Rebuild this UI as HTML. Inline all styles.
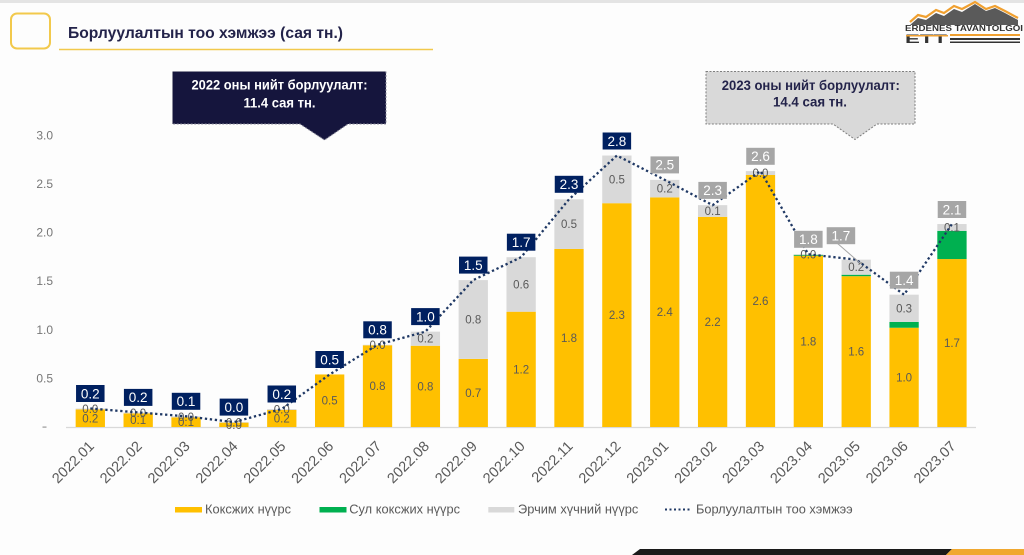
<!DOCTYPE html>
<html><head><meta charset="utf-8"><style>
html,body{margin:0;padding:0;background:#fdfdfd;}
svg{display:block;font-family:"Liberation Sans","DejaVu Sans",sans-serif;}
</style></head><body>
<svg width="1024" height="555" viewBox="0 0 1024 555" xmlns="http://www.w3.org/2000/svg">
<rect x="0" y="0" width="1024" height="555" fill="#fdfdfd"/>
<rect x="0" y="0" width="1024" height="3" fill="#e4e4e4"/>
<!-- header -->
<rect x="11" y="13.5" width="39" height="35" rx="6" ry="6" fill="none" stroke="#F2C94C" stroke-width="2"/>
<text x="68" y="38" font-size="16" font-weight="bold" fill="#23234a" textLength="275" lengthAdjust="spacingAndGlyphs">Борлуулалтын тоо хэмжээ (сая тн.)</text>
<line x1="59" y1="49.5" x2="433" y2="49.5" stroke="#F2C94C" stroke-width="1.6"/>
<!-- logo -->
<polygon points="910,25 918,18 926,20 936,13 944,16 954,9 962,12 975,4 986,11 995,8 1005,13 1018,20 1018,25" fill="#5a5a5a"/>
<polyline points="910,22 918,15 926,17 936,10 944,13 954,6 962,9 975,2 986,9 995,6 1005,11 1018,18" fill="none" stroke="#F0A030" stroke-width="2.2"/>
<text x="905" y="31" font-size="8.6" font-weight="bold" fill="#333" textLength="118" lengthAdjust="spacingAndGlyphs">ERDENES TAVANTOLGOI</text>
<text x="905" y="43" font-size="12" font-weight="bold" fill="#333" textLength="42" lengthAdjust="spacingAndGlyphs">ETT</text>
<rect x="906" y="35" width="42" height="1.5" fill="#F0A030"/>
<rect x="950" y="34" width="70" height="2" fill="#F0A030"/>
<rect x="950" y="38" width="70" height="2" fill="#333"/>
<rect x="950" y="41.5" width="70" height="1.5" fill="#333"/>
<!-- callouts -->
<path d="M172.5,71.5 H386 V124 H348 L324.5,140 L300,124 H172.5 Z" fill="#15153d" stroke="#8a8a9a" stroke-width="1" stroke-dasharray="2 1.5"/>
<text x="279.5" y="89.3" font-size="14" font-weight="bold" fill="#ffffff" text-anchor="middle" textLength="176" lengthAdjust="spacingAndGlyphs">2022 оны нийт борлуулалт:</text>
<text x="279.5" y="107.7" font-size="14" font-weight="bold" fill="#ffffff" text-anchor="middle" textLength="72" lengthAdjust="spacingAndGlyphs">11.4 сая тн.</text>
<path d="M706,71.5 H915 V124 H877 L855,139.5 L833,124 H706 Z" fill="#D9D9D9" stroke="#7f7f7f" stroke-width="1" stroke-dasharray="2 1.5"/>
<text x="810.8" y="90" font-size="14" font-weight="bold" fill="#23234a" text-anchor="middle" textLength="178" lengthAdjust="spacingAndGlyphs">2023 оны нийт борлуулалт:</text>
<text x="810" y="106.7" font-size="14" font-weight="bold" fill="#23234a" text-anchor="middle" textLength="74" lengthAdjust="spacingAndGlyphs">14.4 сая тн.</text>
<!-- y axis -->
<g font-size="12" fill="#777" text-anchor="end">
<text x="53" y="139.3">3.0</text>
<text x="53" y="187.9">2.5</text>
<text x="53" y="236.6">2.0</text>
<text x="53" y="285.2">1.5</text>
<text x="53" y="333.9">1.0</text>
<text x="53" y="382.5">0.5</text>
</g>
<rect x="42.5" y="426.5" width="4" height="1.2" fill="#999"/>
<line x1="66" y1="427.5" x2="976" y2="427.5" stroke="#d9d9d9" stroke-width="1.2"/>
<!-- bars -->
<g fill="#FFC000">
<rect x="75.65" y="409.49" width="29.3" height="17.51"/>
<rect x="123.52" y="413.38" width="29.3" height="13.62"/>
<rect x="171.39" y="417.27" width="29.3" height="9.73"/>
<rect x="219.26" y="422.62" width="29.3" height="4.38"/>
<rect x="267.13" y="409.97" width="29.3" height="17.03"/>
<rect x="315.0" y="374.46" width="29.3" height="52.54"/>
<rect x="362.87" y="345.27" width="29.3" height="81.73"/>
<rect x="410.74" y="345.75" width="29.3" height="81.25"/>
<rect x="458.61" y="358.89" width="29.3" height="68.11"/>
<rect x="506.48" y="311.7" width="29.3" height="115.3"/>
<rect x="554.35" y="248.94" width="29.3" height="178.06"/>
<rect x="602.22" y="203.21" width="29.3" height="223.79"/>
<rect x="650.09" y="197.37" width="29.3" height="229.63"/>
<rect x="697.96" y="216.83" width="29.3" height="210.17"/>
<rect x="745.83" y="174.99" width="29.3" height="252.01"/>
<rect x="793.7" y="255.75" width="29.3" height="171.25"/>
<rect x="841.57" y="276.18" width="29.3" height="150.82"/>
<rect x="889.44" y="327.75" width="29.3" height="99.25"/>
<rect x="937.31" y="259.06" width="29.3" height="167.94"/>
</g>
<g fill="#00B050">
<rect x="793.7" y="254.78" width="29.3" height="0.97"/>
<rect x="841.57" y="274.72" width="29.3" height="1.46"/>
<rect x="889.44" y="321.91" width="29.3" height="5.84"/>
<rect x="937.31" y="230.84" width="29.3" height="28.22"/>
</g>
<g fill="#D9D9D9">
<rect x="75.65" y="408.52" width="29.3" height="0.97"/>
<rect x="123.52" y="412.41" width="29.3" height="0.97"/>
<rect x="171.39" y="416.3" width="29.3" height="0.97"/>
<rect x="219.26" y="422.13" width="29.3" height="0.49"/>
<rect x="267.13" y="409.0" width="29.3" height="0.97"/>
<rect x="362.87" y="344.78" width="29.3" height="0.49"/>
<rect x="410.74" y="331.64" width="29.3" height="14.11"/>
<rect x="458.61" y="280.08" width="29.3" height="78.81"/>
<rect x="506.48" y="257.21" width="29.3" height="54.49"/>
<rect x="554.35" y="199.32" width="29.3" height="49.62"/>
<rect x="602.22" y="155.53" width="29.3" height="47.68"/>
<rect x="650.09" y="179.86" width="29.3" height="17.51"/>
<rect x="697.96" y="205.15" width="29.3" height="11.68"/>
<rect x="745.83" y="171.1" width="29.3" height="3.89"/>
<rect x="793.7" y="254.29" width="29.3" height="0.49"/>
<rect x="841.57" y="259.64" width="29.3" height="15.08"/>
<rect x="889.44" y="294.67" width="29.3" height="27.24"/>
<rect x="937.31" y="224.03" width="29.3" height="6.81"/>
</g>
<!-- inner labels -->
<g font-size="11.5" fill="#595959" text-anchor="middle">
<text x="90.3" y="422.3">0.2</text><text x="90.3" y="413">0.0</text>
<text x="138.17" y="424.2">0.1</text><text x="138.17" y="416.9">0.0</text>
<text x="186.04" y="426.1">0.1</text><text x="186.04" y="420.8">0.0</text>
<text x="233.91" y="428.8">0.0</text><text x="233.91" y="426.4">0.0</text>
<text x="281.78" y="422.5">0.2</text><text x="281.78" y="413.5">0.0</text>
<text x="329.65" y="404.7">0.5</text>
<text x="377.52" y="390.1">0.8</text><text x="377.52" y="349">0.0</text>
<text x="425.39" y="390.4">0.8</text><text x="425.39" y="342.7">0.2</text>
<text x="473.26" y="396.9">0.7</text><text x="473.26" y="323.5">0.8</text>
<text x="521.13" y="373.4">1.2</text><text x="521.13" y="288.5">0.6</text>
<text x="569.0" y="342">1.8</text><text x="569.0" y="228.1">0.5</text>
<text x="616.87" y="319.1">2.3</text><text x="616.87" y="183.4">0.5</text>
<text x="664.74" y="316.2">2.4</text><text x="664.74" y="192.6">0.2</text>
<text x="712.61" y="325.9">2.2</text><text x="712.61" y="215">0.1</text>
<text x="760.48" y="305">2.6</text><text x="760.48" y="177">0.0</text>
<text x="808.35" y="345.4">1.8</text><text x="808.35" y="258.5">0.0</text>
<text x="856.22" y="355.6">1.6</text><text x="856.22" y="271.2">0.2</text>
<text x="904.09" y="381.4">1.0</text><text x="904.09" y="312.3">0.3</text>
<text x="951.96" y="347">1.7</text><text x="951.96" y="231.4">0.1</text>
</g>
<!-- total line -->
<polyline points="90.3,408.52 138.17,412.41 186.04,416.3 233.91,422.13 281.78,409.0 329.65,374.46 377.52,344.78 425.39,331.64 473.26,280.08 521.13,257.21 569.0,199.32 616.87,155.53 664.74,179.86 712.61,205.15 760.48,171.1 808.35,254.29 856.22,259.64 904.09,294.67 951.96,224.03" fill="none" stroke="#1F3864" stroke-width="2.3" stroke-dasharray="2.3 2.7"/>
<line x1="837" y1="243" x2="860" y2="263" stroke="#a6a6a6" stroke-width="1"/>
<!-- total boxes -->
<g fill="#002060">
<rect x="76.05" y="385.0" width="28.5" height="17"/>
<rect x="123.92" y="388.9" width="28.5" height="17"/>
<rect x="171.79" y="392.8" width="28.5" height="17"/>
<rect x="219.66" y="398.6" width="28.5" height="17"/>
<rect x="267.53" y="385.5" width="28.5" height="17"/>
<rect x="315.4" y="351.0" width="28.5" height="17"/>
<rect x="363.27" y="321.3" width="28.5" height="17"/>
<rect x="411.14" y="308.1" width="28.5" height="17"/>
<rect x="459.01" y="256.6" width="28.5" height="17"/>
<rect x="506.88" y="233.7" width="28.5" height="17"/>
<rect x="554.75" y="175.8" width="28.5" height="17"/>
<rect x="602.62" y="132.5" width="28.5" height="17"/>
</g>
<g fill="#A6A6A6">
<rect x="650.49" y="156.4" width="28.5" height="17"/>
<rect x="698.36" y="181.9" width="28.5" height="17"/>
<rect x="746.23" y="147.8" width="28.5" height="17"/>
<rect x="794.1" y="230.8" width="28.5" height="17"/>
<rect x="826.7" y="227.2" width="28.5" height="17"/>
<rect x="889.84" y="271.7" width="28.5" height="17"/>
<rect x="937.71" y="201.0" width="28.5" height="17"/>
</g>
<g font-size="13.5" fill="#ffffff" text-anchor="middle">
<text x="90.3" y="398.3">0.2</text>
<text x="138.17" y="402.2">0.2</text>
<text x="186.04" y="406.1">0.1</text>
<text x="233.91" y="411.9">0.0</text>
<text x="281.78" y="398.8">0.2</text>
<text x="329.65" y="364.3">0.5</text>
<text x="377.52" y="334.6">0.8</text>
<text x="425.39" y="321.4">1.0</text>
<text x="473.26" y="269.9">1.5</text>
<text x="521.13" y="247.0">1.7</text>
<text x="569.0" y="189.1">2.3</text>
<text x="616.87" y="145.8">2.8</text>
<text x="664.74" y="169.7">2.5</text>
<text x="712.61" y="195.2">2.3</text>
<text x="760.48" y="161.1">2.6</text>
<text x="808.35" y="244.1">1.8</text>
<text x="840.95" y="240.5">1.7</text>
<text x="904.09" y="285.0">1.4</text>
<text x="951.96" y="214.3">2.1</text>
</g>
<!-- x labels -->
<g font-size="14.5" fill="#595959" text-anchor="end">
<text transform="translate(95,447) rotate(-45)">2022.01</text>
<text transform="translate(142.87,447) rotate(-45)">2022.02</text>
<text transform="translate(190.74,447) rotate(-45)">2022.03</text>
<text transform="translate(238.61,447) rotate(-45)">2022.04</text>
<text transform="translate(286.48,447) rotate(-45)">2022.05</text>
<text transform="translate(334.35,447) rotate(-45)">2022.06</text>
<text transform="translate(382.22,447) rotate(-45)">2022.07</text>
<text transform="translate(430.09,447) rotate(-45)">2022.08</text>
<text transform="translate(477.96,447) rotate(-45)">2022.09</text>
<text transform="translate(525.83,447) rotate(-45)">2022.10</text>
<text transform="translate(573.7,447) rotate(-45)">2022.11</text>
<text transform="translate(621.57,447) rotate(-45)">2022.12</text>
<text transform="translate(669.44,447) rotate(-45)">2023.01</text>
<text transform="translate(717.31,447) rotate(-45)">2023.02</text>
<text transform="translate(765.18,447) rotate(-45)">2023.03</text>
<text transform="translate(813.05,447) rotate(-45)">2023.04</text>
<text transform="translate(860.92,447) rotate(-45)">2023.05</text>
<text transform="translate(908.79,447) rotate(-45)">2023.06</text>
<text transform="translate(956.66,447) rotate(-45)">2023.07</text>
</g>
<!-- legend -->
<rect x="175" y="507" width="27" height="5.5" fill="#FFC000"/>
<text x="205" y="513.5" font-size="13" fill="#595959" textLength="86" lengthAdjust="spacingAndGlyphs">Коксжих нүүрс</text>
<rect x="319.5" y="507" width="27" height="5.5" fill="#00B050"/>
<text x="349.3" y="513.5" font-size="13" fill="#595959" textLength="110.7" lengthAdjust="spacingAndGlyphs">Сул коксжих нүүрс</text>
<rect x="488.3" y="507" width="26" height="5.5" fill="#D9D9D9"/>
<text x="518" y="513.5" font-size="13" fill="#595959" textLength="120.3" lengthAdjust="spacingAndGlyphs">Эрчим хүчний нүүрс</text>
<line x1="665" y1="509.5" x2="692" y2="509.5" stroke="#1F3864" stroke-width="2" stroke-dasharray="2 2.5"/>
<text x="696" y="513.5" font-size="13" fill="#595959" textLength="156.7" lengthAdjust="spacingAndGlyphs">Борлуулалтын тоо хэмжээ</text>
<!-- bottom decoration -->
<polygon points="640,549 952,549 946,555 632,555" fill="#1a1a1a"/>
<polygon points="952,549 1024,549 1024,555 946,555" fill="#F0A830"/>
</svg>
</body></html>
